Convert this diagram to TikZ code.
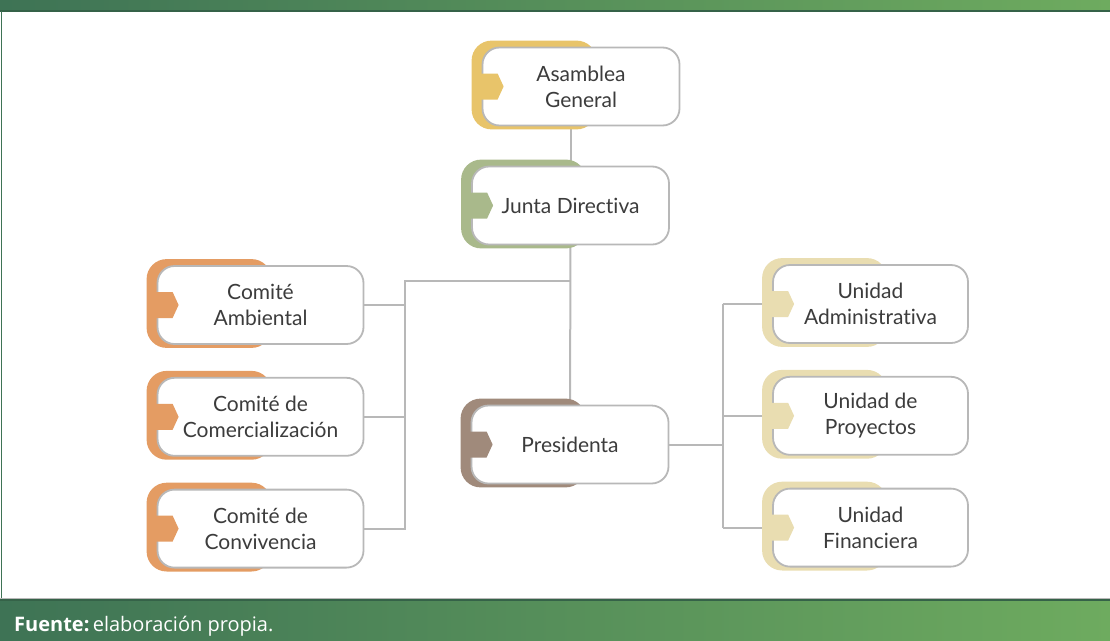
\documentclass[tikz,border=0pt]{standalone}
\usepackage{fontspec}
\setmainfont{Lato}[Ligatures=NoCommon]
\newfontfamily\footfont{Open Sans}
\usetikzlibrary{positioning,backgrounds,calc}

\pgfdeclarelayer{lines}
\pgfsetlayers{lines,background,main}

\definecolor{barDark}{HTML}{3E7355}
\definecolor{barLight}{HTML}{6EAB5F}
\definecolor{edgeGray}{HTML}{B8B8B8}
\definecolor{txtGray}{HTML}{3C3C3C}
\definecolor{cAsamblea}{HTML}{E8C46A}
\definecolor{cJunta}{HTML}{A9B98B}
\definecolor{cComite}{HTML}{E49C63}
\definecolor{cPres}{HTML}{A08A7B}
\definecolor{cUnidad}{HTML}{E9DDB1}

\tikzset{
  orgbox/.style={draw=edgeGray, line width=1.8pt, fill=white, rounded corners=17pt,
    minimum width=197pt, minimum height=78pt, align=center, text=txtGray,
    font=\fontsize{21}{26}\selectfont},
  wide/.style={minimum width=206pt},
  link/.style={draw=edgeGray, line width=2pt},
}

% coloured tab behind a box, plus its notch
\newcommand{\backing}[2]{%
  \begin{scope}[on background layer]
    \fill[#2, rounded corners=20pt] ($(#1.north west)+(-10,-6)$) rectangle ($(#1.south west)+(115,3)$);
  \end{scope}
  \fill[#2] ($(#1.west)+(-1,-13)$) -- ++(17,0) -- ++(6,13) -- ++(-6,13) -- ++(-17,0) -- cycle;
}

\begin{document}
\begin{tikzpicture}[x=1pt, y=-1pt]
\useasboundingbox (0,0) rectangle (1110,640);

%bars
\shade[left color=barDark, right color=barLight] (0,0) rectangle (1110,10);
\fill[barDark!85!black] (0,10) rectangle (1110,11.5);
\draw[barDark, line width=1pt] (1.5,11) -- (1.5,600);
\draw[edgeGray, line width=0.8pt] (0,598.5) -- (1110,598.5);
\shade[left color=barDark, right color=barLight] (0,599) rectangle (1110,640);
\fill[barDark!85!black] (0,599) rectangle (1110,600.5);
\node[anchor=base west, text=white, inner sep=0pt, font=\footfont\fontsize{20}{24}\selectfont]
  (fuente) at (14,631) {\textbf{Fuente:}\,elaboración propia.};

%centre column
\node[orgbox] (asamblea) at (581,86.5) {Asamblea\\General};
\node[orgbox] (junta) at (570.5,205.5) {Junta Directiva};
\node[orgbox] (presidenta) at (570,444.5) {Presidenta};

%comites
\node[orgbox, wide] (ambiental) at (260.5,305) {Comité\\Ambiental};
\node[orgbox, wide, below=32pt of ambiental] (comercial) {Comité de\\Comercialización};
\node[orgbox, wide, below=32pt of comercial] (convivencia) {Comité de\\Convivencia};

%unidades
\node[orgbox, minimum width=195pt] (administrativa) at (870.5,304) {Unidad\\Administrativa};
\node[orgbox, minimum width=195pt, below=32pt of administrativa] (proyectos) {Unidad de\\Proyectos};
\node[orgbox, minimum width=195pt, below=32pt of proyectos] (financiera) {Unidad\\Financiera};

\backing{asamblea}{cAsamblea}
\backing{junta}{cJunta}
\backing{presidenta}{cPres}
\backing{ambiental}{cComite}
\backing{comercial}{cComite}
\backing{convivencia}{cComite}
\backing{administrativa}{cUnidad}
\backing{proyectos}{cUnidad}
\backing{financiera}{cUnidad}

\coordinate (lbus) at (405,280.5);
\coordinate (rbus) at (722.5,443);

%lines
\begin{pgfonlayer}{lines}
\draw[link] (junta.north) -- (junta.north |- asamblea.south);
\draw[link] (junta) -- (presidenta);
\draw[link] (junta |- lbus) -- (lbus) |- (convivencia.east);
\draw[link] (ambiental.east) -- (ambiental.east -| lbus);
\draw[link] (comercial.east) -- (comercial.east -| lbus);
\draw[link] (presidenta.east) -- (presidenta.east -| rbus);
\draw[link] (administrativa.west -| rbus) -- (financiera.west -| rbus);
\draw[link] (administrativa.west -| rbus) -- (administrativa.west);
\draw[link] (proyectos.west -| rbus) -- (proyectos.west);
\draw[link] (financiera.west -| rbus) -- (financiera.west);
\end{pgfonlayer}

\end{tikzpicture}
\end{document}
